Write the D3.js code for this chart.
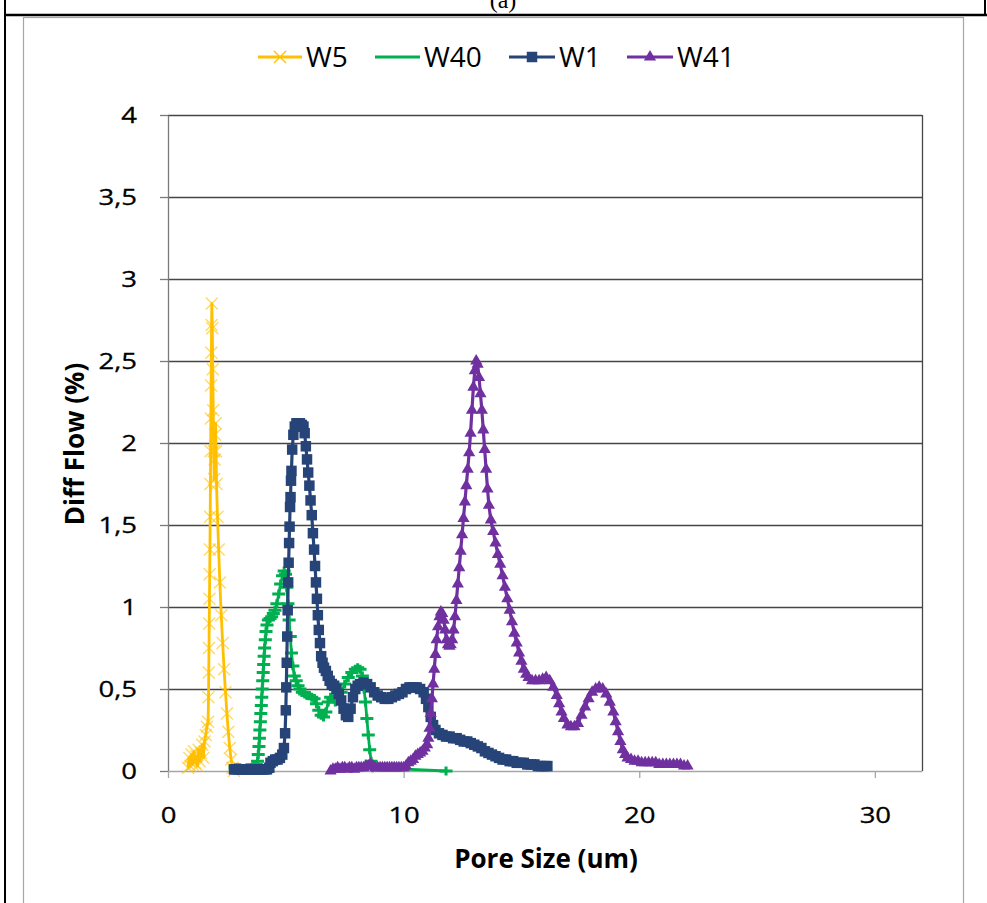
<!DOCTYPE html>
<html>
<head>
<meta charset="utf-8">
<script src="https://cdn.jsdelivr.net/npm/d3@7"></script>
<style>
  body { margin: 0; background: #fff; }
  svg { display: block; }
</style>
</head>
<body>
<svg id="chart" width="987" height="903"></svg>
<script>
// Differential flow (%) against pore size (um) for four samples
const seriesNames = ["W5", "W40", "W1", "W41"];
const seriesColors = ["#FFC000", "#00B050", "#264478", "#7030A0"];

const w5Points = [
  [0.85,0.02],[0.9,0.08],[0.95,0.03],[1.0,0.1],[1.05,0.04],[1.1,0.12],[1.15,0.05],[1.2,0.09],
  [1.25,0.03],[1.3,0.13],[1.35,0.06],[1.4,0.11],[1.45,0.16],[1.5,0.08],[1.55,0.18],[1.6,0.22],
  [1.65,0.27],[1.7,0.3],[1.72,0.45],[1.73,0.6],[1.74,0.75],[1.75,0.9],[1.76,1.05],[1.77,1.2],
  [1.78,1.35],[1.79,1.55],[1.8,1.75],[1.81,1.95],[1.82,2.15],[1.83,2.35],[1.84,2.55],[1.85,2.72],
  [1.86,2.85],[1.88,2.7],[1.9,2.45],[1.92,2.2],[1.94,1.95],[1.96,1.78],[1.98,1.9],[2.0,2.05],
  [2.02,2.12],[2.04,1.95],[2.06,1.75],[2.1,1.55],[2.15,1.35],[2.2,1.15],[2.26,0.95],[2.32,0.78],
  [2.38,0.62],[2.44,0.48],[2.5,0.35],[2.56,0.24],[2.62,0.14],[2.68,0.07],[2.74,0.02],[2.8,0.0]
];

const w40Points = [
  [2.85,0.02],[2.95,0.02],[3.05,0.02],[3.15,0.01],[3.25,0.01],[3.35,0.02],[3.45,0.02],[3.55,0.02],
  [3.65,0.03],[3.75,0.04],[3.8,0.06],[3.83,0.1],[3.86,0.15],[3.88,0.2],[3.9,0.25],[3.92,0.3],
  [3.94,0.35],[3.96,0.4],[3.98,0.45],[4.0,0.5],[4.02,0.55],[4.04,0.6],[4.06,0.65],[4.08,0.7],
  [4.1,0.75],[4.13,0.8],[4.16,0.85],[4.2,0.89],[4.26,0.92],[4.33,0.93],[4.4,0.94],[4.47,0.96],
  [4.54,0.98],[4.62,1.02],[4.7,1.08],[4.78,1.14],[4.86,1.19],[4.93,1.22],[4.99,1.2],[5.04,1.12],
  [5.09,1.02],[5.14,0.92],[5.19,0.82],[5.24,0.72],[5.3,0.64],[5.36,0.58],[5.44,0.55],[5.52,0.52],
  [5.6,0.5],[5.7,0.48],[5.8,0.47],[5.9,0.46],[6.0,0.46],[6.1,0.45],[6.2,0.44],[6.3,0.41],
  [6.4,0.37],[6.5,0.34],[6.6,0.33],[6.7,0.36],[6.8,0.42],[6.9,0.45],[7.0,0.44],[7.1,0.42],
  [7.2,0.43],[7.35,0.48],[7.5,0.53],[7.65,0.57],[7.8,0.6],[7.95,0.62],[8.05,0.63],[8.15,0.62],
  [8.25,0.58],[8.32,0.5],[8.38,0.42],[8.44,0.32],[8.5,0.22],[8.56,0.13],[8.62,0.06],[8.68,0.02],
  [11.8,0.0]
];

const w1Points = [
  [2.8,0.01],[2.9,0.01],[3.0,0.01],[3.1,0.01],[3.2,0.01],[3.3,0.01],[3.4,0.01],[3.5,0.01],
  [3.6,0.01],[3.7,0.01],[3.8,0.01],[3.9,0.01],[4.0,0.01],[4.1,0.01],[4.2,0.01],[4.3,0.02],
  [4.35,0.05],[4.45,0.06],[4.55,0.07],[4.65,0.07],[4.75,0.08],[4.85,0.1],[4.92,0.14],[4.97,0.23],
  [5.0,0.37],[5.02,0.51],[5.04,0.66],[5.06,0.82],[5.08,0.98],[5.1,1.15],[5.12,1.27],[5.14,1.39],
  [5.16,1.49],[5.18,1.61],[5.2,1.67],[5.22,1.77],[5.24,1.83],[5.27,1.96],[5.32,2.05],[5.38,2.1],
  [5.45,2.12],[5.52,2.12],[5.6,2.12],[5.68,2.11],[5.75,2.1],[5.8,2.06],[5.85,1.98],[5.9,1.9],
  [5.95,1.82],[6.0,1.74],[6.05,1.65],[6.1,1.56],[6.15,1.45],[6.2,1.35],[6.24,1.25],[6.28,1.15],
  [6.32,1.05],[6.36,0.95],[6.4,0.86],[6.45,0.78],[6.5,0.7],[6.56,0.66],[6.62,0.63],[6.7,0.61],
  [6.78,0.58],[6.86,0.55],[6.95,0.53],[7.05,0.52],[7.15,0.5],[7.25,0.47],[7.35,0.43],[7.45,0.38],
  [7.55,0.34],[7.65,0.33],[7.75,0.38],[7.85,0.45],[7.95,0.5],[8.05,0.52],[8.15,0.53],[8.3,0.54],
  [8.45,0.53],[8.6,0.51],[8.75,0.48],[8.9,0.46],[9.05,0.45],[9.2,0.44],[9.35,0.44],[9.5,0.45],
  [9.65,0.46],[9.8,0.47],[9.95,0.48],[10.1,0.5],[10.25,0.51],[10.4,0.51],[10.55,0.51],[10.7,0.5],
  [10.85,0.48],[10.95,0.44],[11.05,0.39],[11.15,0.33],[11.25,0.28],[11.35,0.25],[11.5,0.23],[11.65,0.22],
  [11.8,0.21],[11.95,0.21],[12.1,0.2],[12.25,0.2],[12.4,0.19],[12.55,0.18],[12.7,0.18],[12.85,0.17],
  [13.0,0.16],[13.15,0.15],[13.3,0.14],[13.45,0.12],[13.6,0.11],[13.75,0.1],[13.9,0.09],[14.05,0.08],
  [14.2,0.07],[14.35,0.07],[14.5,0.06],[14.65,0.06],[14.8,0.05],[14.95,0.05],[15.1,0.05],[15.25,0.04],
  [15.4,0.04],[15.55,0.04],[15.7,0.03],[15.85,0.03],[16.0,0.03],[16.1,0.03]
];

const w41Points = [
  [6.9,0.0],[7.0,0.01],[7.1,0.01],[7.2,0.02],[7.3,0.01],[7.4,0.02],[7.5,0.02],[7.6,0.01],
  [7.7,0.02],[7.8,0.02],[7.9,0.01],[8.0,0.02],[8.1,0.02],[8.2,0.02],[8.3,0.02],[8.4,0.03],
  [8.5,0.03],[8.6,0.04],[8.7,0.03],[8.8,0.02],[8.9,0.02],[9.0,0.02],[9.1,0.02],[9.2,0.02],
  [9.3,0.02],[9.4,0.02],[9.5,0.02],[9.6,0.02],[9.7,0.02],[9.8,0.02],[9.9,0.02],[10.0,0.02],
  [10.1,0.03],[10.2,0.05],[10.3,0.06],[10.4,0.07],[10.5,0.09],[10.6,0.1],[10.7,0.11],[10.8,0.12],
  [10.9,0.14],[11.0,0.16],[11.05,0.2],[11.1,0.26],[11.15,0.35],[11.2,0.44],[11.25,0.53],[11.3,0.62],
  [11.35,0.71],[11.4,0.8],[11.46,0.88],[11.52,0.94],[11.58,0.97],[11.64,0.96],[11.7,0.92],[11.76,0.86],
  [11.82,0.8],[11.88,0.77],[11.94,0.76],[12.0,0.77],[12.06,0.8],[12.12,0.86],[12.18,0.94],[12.24,1.04],
  [12.3,1.14],[12.36,1.24],[12.42,1.34],[12.48,1.44],[12.54,1.54],[12.6,1.64],[12.66,1.74],[12.72,1.84],
  [12.78,1.94],[12.84,2.06],[12.9,2.2],[12.96,2.34],[13.02,2.44],[13.08,2.5],[13.14,2.48],[13.2,2.4],
  [13.26,2.3],[13.32,2.2],[13.38,2.08],[13.44,1.96],[13.5,1.84],[13.56,1.72],[13.62,1.62],[13.7,1.53],
  [13.8,1.46],[13.9,1.39],[14.0,1.32],[14.1,1.26],[14.2,1.19],[14.3,1.12],[14.4,1.05],[14.5,0.98],
  [14.6,0.91],[14.7,0.84],[14.8,0.78],[14.9,0.72],[15.0,0.67],[15.1,0.62],[15.2,0.59],[15.3,0.57],
  [15.45,0.55],[15.6,0.55],[15.75,0.55],[15.9,0.56],[16.05,0.57],[16.2,0.55],[16.35,0.51],[16.5,0.46],
  [16.6,0.41],[16.7,0.36],[16.8,0.32],[16.95,0.28],[17.1,0.27],[17.25,0.27],[17.4,0.29],[17.55,0.34],
  [17.7,0.39],[17.85,0.44],[18.0,0.48],[18.15,0.5],[18.3,0.51],[18.45,0.5],[18.6,0.47],[18.75,0.42],
  [18.9,0.36],[19.0,0.3],[19.1,0.24],[19.2,0.18],[19.3,0.13],[19.4,0.1],[19.5,0.08],[19.65,0.07],
  [19.8,0.06],[19.95,0.06],[20.1,0.05],[20.25,0.05],[20.4,0.05],[20.55,0.05],[20.7,0.05],[20.85,0.04],
  [21.0,0.04],[21.15,0.04],[21.3,0.04],[21.45,0.04],[21.6,0.04],[21.75,0.04],[21.9,0.03],[22.05,0.03]
];

const xTicks = [0, 10, 20, 30];
const yTicks = [0, 0.5, 1, 1.5, 2, 2.5, 3, 3.5, 4];
const xTitle = "Pore Size (um)";
const yTitle = "Diff Flow (%)";
const panelLabel = "(a)";

const seriesData = [w5Points, w40Points, w1Points, w41Points];

const svg = d3.select("#chart");
const font = "'Open Sans', 'Noto Sans', sans-serif";

// page frame: table cell rules and caption
svg.append("line").attr("x1", 5).attr("x2", 5).attr("y1", 0).attr("y2", 903)
  .attr("stroke", "#000").attr("stroke-width", 2);
svg.append("line").attr("x1", 985).attr("x2", 985).attr("y1", 0).attr("y2", 16)
  .attr("stroke", "#000").attr("stroke-width", 2);
svg.append("line").attr("x1", 4).attr("x2", 987).attr("y1", 15).attr("y2", 15)
  .attr("stroke", "#000").attr("stroke-width", 2.5);
svg.append("text").attr("x", 503).attr("y", 8).attr("text-anchor", "middle")
  .attr("font-family", "'Liberation Serif', 'Times New Roman', serif").attr("font-size", 24)
  .text(panelLabel);

// chart area border
svg.append("rect").attr("x", 23.5).attr("y", 17.5).attr("width", 940).attr("height", 900)
  .attr("fill", "#fff").attr("stroke", "#a6a6a6").attr("stroke-width", 1.2);

const x = d3.scaleLinear().domain([0, 32]).range([168, 922]);
const y = d3.scaleLinear().domain([0, 4]).range([771, 115]);
const decimalComma = d => String(d).replace(".", ",");

// horizontal gridlines
svg.append("g").selectAll("line").data(yTicks.filter(d => d > 0)).join("line")
  .attr("x1", x.range()[0]).attr("x2", x.range()[1])
  .attr("y1", d => Math.round(y(d)) + 0.5).attr("y2", d => Math.round(y(d)) + 0.5)
  .attr("stroke", "#464646").attr("stroke-width", 1.3);

// right edge of plot area
svg.append("line").attr("x1", 922.5).attr("x2", 922.5).attr("y1", y(4)).attr("y2", y(0))
  .attr("stroke", "#464646").attr("stroke-width", 1.3);

// y axis
const yAxis = svg.append("g").attr("transform", `translate(${x(0)},0)`)
  .call(d3.axisLeft(y).tickValues(yTicks).tickFormat(decimalComma).tickSizeInner(8).tickSizeOuter(0));
yAxis.select(".domain").attr("stroke", "#7a7a7a").attr("stroke-width", 1.3);
yAxis.selectAll(".tick line").attr("stroke", "#7a7a7a").attr("stroke-width", 1.3);
yAxis.selectAll(".tick text")
  .attr("font-family", font).attr("font-size", 22).attr("fill", "#000")
  .attr("stroke", "#000").attr("stroke-width", 0.3)
  .attr("text-anchor", "end").attr("x", -31 / 1.25).attr("dy", "0.36em")
  .attr("transform", "scale(1.25,1)");

// x axis
const xAxis = svg.append("g").attr("transform", `translate(0,${y(0)})`)
  .call(d3.axisBottom(x).tickValues(xTicks).tickFormat(d3.format("d")).tickSizeInner(7).tickSizeOuter(0));
xAxis.select(".domain").attr("stroke", "#a6a6a6").attr("stroke-width", 1.3);
xAxis.selectAll(".tick line").attr("stroke", "#a6a6a6").attr("stroke-width", 1.3);
xAxis.selectAll(".tick text")
  .attr("font-family", font).attr("font-size", 22).attr("fill", "#000")
  .attr("stroke", "#000").attr("stroke-width", 0.3)
  .attr("y", 52).attr("dy", 0)
  .attr("transform", "scale(1.25,1)");

// axis titles
svg.append("text").attr("x", 546).attr("y", 868).attr("text-anchor", "middle")
  .attr("font-family", font).attr("font-weight", "bold").attr("font-size", 26)
  .text(xTitle);
svg.append("text").attr("transform", "translate(84,444) rotate(-90)").attr("text-anchor", "middle")
  .attr("font-family", font).attr("font-weight", "bold").attr("font-size", 26)
  .text(yTitle);

// marker shapes per series
const markerPath = [
  "M-6,-6L6,6M-6,6L6,-6",                     // cross
  "M-6.5,0H6.5M0,-4.5V4.5",                    // plus
  d3.symbol(d3.symbolSquare, 110)(),           // square
  d3.symbol(d3.symbolTriangle, 64)()           // triangle
];
const markerFilled = [false, false, true, true];
const markerStroke = [1.4, 3, 0, 0];
const markerOpacity = [0.6, 1, 1, 1];
const lineWidth = [2.8, 2.8, 3.2, 3.2];

const line = d3.line().x(d => x(d[0])).y(d => y(d[1]));

const plot = svg.append("g");
seriesData.forEach((pts, i) => {
  const g = plot.append("g");
  g.append("path").datum(pts).attr("d", line)
    .attr("fill", "none").attr("stroke", seriesColors[i])
    .attr("stroke-width", lineWidth[i]).attr("stroke-linejoin", "round");
  g.selectAll("path.mk").data(pts).join("path").attr("class", "mk")
    .attr("transform", d => `translate(${x(d[0])},${y(d[1])})`)
    .attr("d", markerPath[i])
    .attr("fill", markerFilled[i] ? seriesColors[i] : "none")
    .attr("stroke", markerFilled[i] ? "none" : seriesColors[i])
    .attr("stroke-width", markerStroke[i])
    .attr("opacity", markerOpacity[i]);
});

// legend
const legendY = 57;
const legendItems = [
  { x1: 258, x2: 302, tx: 306, marker: true },
  { x1: 375, x2: 420, tx: 424, marker: false },
  { x1: 509, x2: 555, tx: 559, marker: true },
  { x1: 627, x2: 673, tx: 677, marker: true }
];
legendItems.forEach((it, i) => {
  const g = svg.append("g");
  g.append("line").attr("x1", it.x1).attr("x2", it.x2).attr("y1", legendY).attr("y2", legendY)
    .attr("stroke", seriesColors[i]).attr("stroke-width", lineWidth[i]);
  if (it.marker) {
    g.append("path").attr("transform", `translate(${(it.x1 + it.x2) / 2},${legendY})`)
      .attr("d", markerPath[i])
      .attr("fill", markerFilled[i] ? seriesColors[i] : "none")
      .attr("stroke", markerFilled[i] ? "none" : seriesColors[i])
      .attr("stroke-width", markerStroke[i]);
  }
  g.append("text").attr("x", it.tx).attr("y", legendY + 10)
    .attr("font-family", font).attr("font-size", 28).attr("fill", "#000")
    .text(seriesNames[i]);
});
</script>
</body>
</html>
